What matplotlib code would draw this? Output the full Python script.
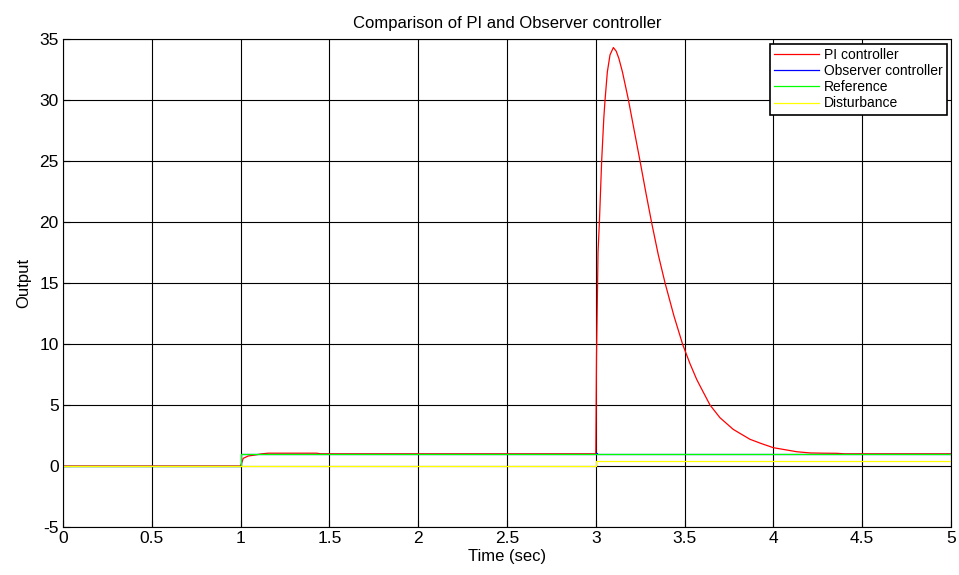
import matplotlib
matplotlib.use("Agg")
import matplotlib.pyplot as plt

plt.rcParams['font.family'] = ['Liberation Sans', 'DejaVu Sans']

# PI controller response
pi_t = [0, 0.997, 1.0, 1.015, 1.043, 1.081, 1.12, 1.156, 1.428, 1.45, 2.999,
        3.0, 3.004, 3.0125, 3.020, 3.033, 3.045, 3.052, 3.065, 3.080, 3.099,
        3.115, 3.130, 3.150, 3.183, 3.215, 3.249, 3.282, 3.315, 3.352, 3.390,
        3.440, 3.489, 3.530, 3.568, 3.587, 3.643, 3.699, 3.774, 3.868, 3.930,
        4.0, 4.060, 4.131, 4.206, 4.280, 4.356, 4.4, 5.0]
pi_y = [0, 0, 0, 0.63, 0.82, 0.9, 1.0, 1.05, 1.05, 1.0, 1.0,
        1.0, 9.0, 17.5, 19.9, 25.0, 28.5, 30.0, 32.3, 33.7, 34.3,
        34.0, 33.4, 32.3, 30.06, 27.6, 25.0, 22.4, 19.9, 17.3, 15.0,
        12.3, 9.97, 8.4, 7.1, 6.56, 5.0, 3.96, 3.0, 2.19, 1.85,
        1.5, 1.35, 1.17, 1.07, 1.05, 1.04, 1.0, 1.0]

# observer controller follows the reference, small blip at t=3
obs_t = [0, 1.0, 1.0, 3.0, 3.0, 3.006, 3.006, 5.0]
obs_y = [0, 0, 1.0, 1.0, 1.1, 1.1, 1.0, 1.0]

ref_t = [0, 1.0, 1.0, 5.0]
ref_y = [0, 0, 1.0, 1.0]

dist_t = [0, 3.0, 3.0, 5.0]
dist_y = [0, 0, 0.45, 0.45]

x_ticks = [0, 0.5, 1, 1.5, 2, 2.5, 3, 3.5, 4, 4.5, 5]
y_ticks = [-5, 0, 5, 10, 15, 20, 25, 30, 35]

fig = plt.figure(figsize=(9.59, 5.75), dpi=100)
ax = fig.add_axes([63 / 959, 48 / 575, 888 / 959, 488 / 575])

ax.plot(pi_t, pi_y, color='#ff0000', lw=0.9, label='PI controller')
ax.plot(obs_t, obs_y, color='#0000ff', lw=0.9, label='Observer controller')
ax.plot(ref_t, ref_y, color='#00ff00', lw=0.9, label='Reference')
ax.plot(dist_t, dist_y, color='#ffff00', lw=0.9, label='Disturbance')

ax.set_xlim(0, 5)
ax.set_ylim(-5, 35)
ax.set_xticks(x_ticks)
ax.set_xticklabels(['%g' % v for v in x_ticks])
ax.set_yticks(y_ticks)
ax.set_yticklabels(['%g' % v for v in y_ticks])
ax.tick_params(direction='in', length=5, width=0.8, labelsize=12.5, pad=3)
ax.grid(True, color='black', lw=0.8, linestyle='-')
ax.set_axisbelow(True)
for s in ax.spines.values():
    s.set_linewidth(0.8)

ax.set_title('Comparison of PI and Observer controller', fontsize=12, pad=8)
ax.set_xlabel('Time (sec)', fontsize=12, labelpad=2)
ax.set_ylabel('Output', fontsize=12, labelpad=6)

leg = ax.legend(loc='upper right', bbox_to_anchor=(947 / 959, 1 - 44 / 575),
                bbox_transform=fig.transFigure, fontsize=10, frameon=True,
                fancybox=False, edgecolor='black', framealpha=1,
                handlelength=3.2, handletextpad=0.4, borderpad=0.3,
                labelspacing=0.15, borderaxespad=0)
leg.get_frame().set_linewidth(1.2)

fig.savefig('out.png', dpi=100)
